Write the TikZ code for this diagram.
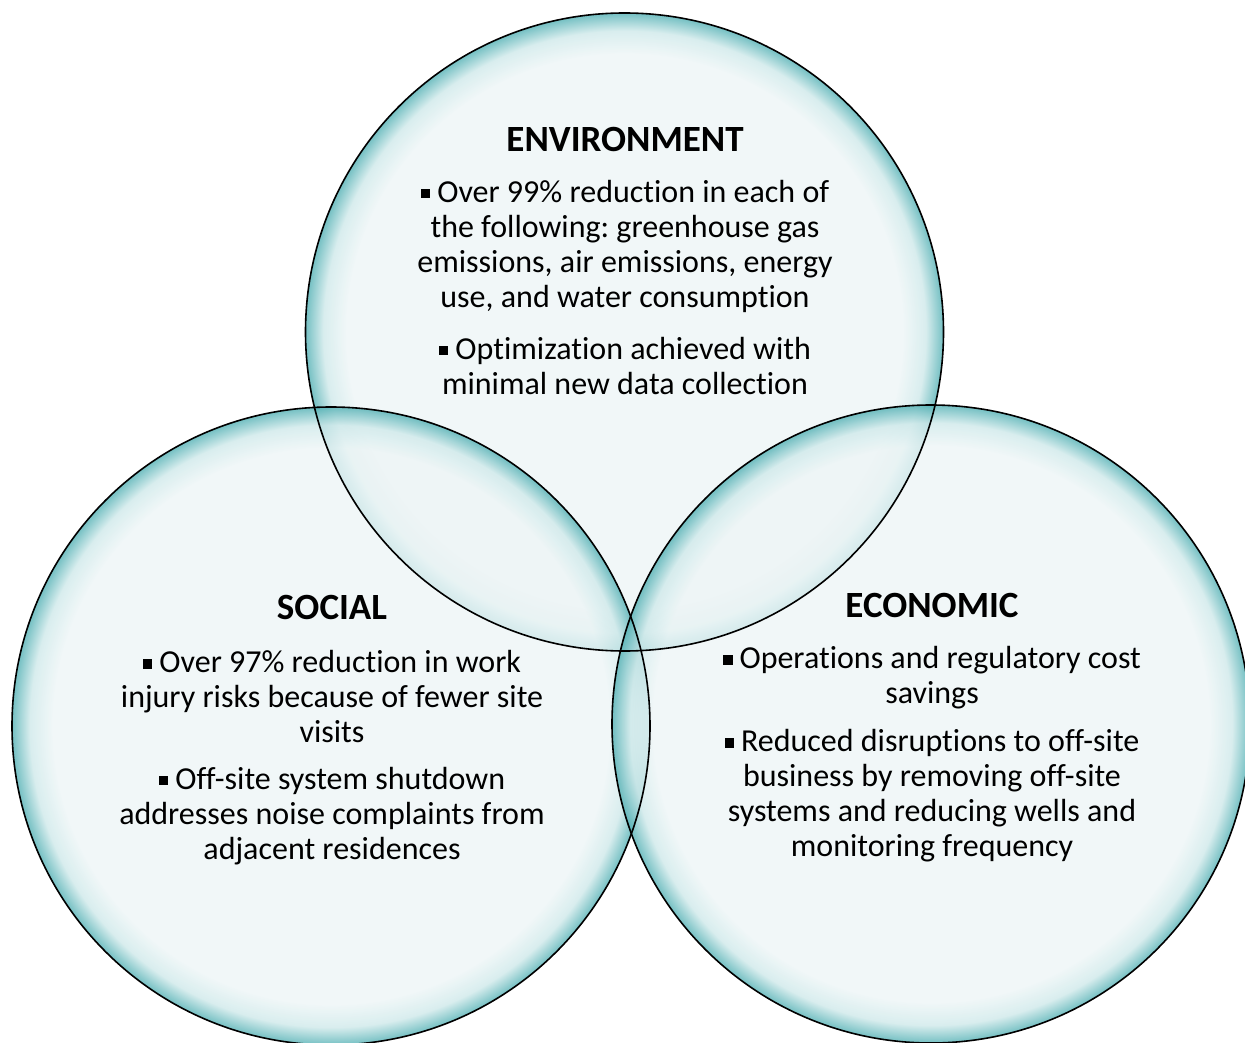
\documentclass[tikz,border=0pt]{standalone}
\usepackage{fontspec}
\setmainfont[Ligatures=NoCommon]{Carlito}
\frenchspacing
\definecolor{glassin}{HTML}{EDF5F6}
\definecolor{glassmid}{HTML}{CFE9EA}
\definecolor{glassout}{HTML}{52B0B4}
\pgfdeclareradialshading{glass}{\pgfpoint{0bp}{0bp}}{color(0bp)=(glassin); color(21.8bp)=(glassin); color(23.6bp)=(glassmid); color(25bp)=(glassout); color(50bp)=(glassout)}
\newcommand{\bul}{\rule[4pt]{9.5pt}{9.5pt}\hspace{7pt}}
\tikzset{
  vennfill/.style={circle, minimum size=638pt, inner sep=0pt, shading=glass, fill opacity=0.8},
  vennline/.style={draw=black, line width=1.6pt},
  ttl/.style={font=\fontsize{37pt}{40pt}\selectfont\bfseries, align=center, inner sep=0pt},
  bodytxt/.style={font=\fontsize{32pt}{35pt}\selectfont, align=center, inner sep=0pt},
}
\begin{document}
\begin{tikzpicture}[x=1pt,y=-1pt]
\useasboundingbox (0,0) rectangle (1245,1043);
\clip (0,0) rectangle (1245,1043);
\node[vennfill] (env) at (624.5,332) {};
\node[vennfill] (soc) at (331,726) {};
\node[vennfill] (eco) at (931,724) {};
\draw[vennline] (env.center) circle[radius=319];
\draw[vennline] (soc.center) circle[radius=319];
\draw[vennline] (eco.center) circle[radius=319];
% Environment
\node[ttl] (envt) at (625,139) {ENVIRONMENT};
\node[bodytxt] (envb1) at (625,246) {\bul Over 99\% reduction in each of\\the following: greenhouse gas\\emissions, air emissions, energy\\use, and water consumption};
\node[bodytxt] (envb2) at (625,366) {\bul Optimization achieved with\\minimal new data collection};
% Social
\node[ttl] (soct) at (332,607) {SOCIAL};
\node[bodytxt] (socb1) at (332,697) {\bul Over 97\% reduction in work\\injury risks because of fewer site\\visits};
\node[bodytxt] (socb2) at (332,816) {\bul Off-site system shutdown\\addresses noise complaints from\\adjacent residences};
% Economic
\node[ttl] (ecot) at (932,605) {ECONOMIC};
\node[bodytxt] (ecob1) at (932,678) {\bul Operations and regulatory cost\\savings};
\node[bodytxt] (ecob2) at (932,796) {\bul Reduced disruptions to off-site\\business by removing off-site\\systems and reducing wells and\\monitoring frequency};
\end{tikzpicture}
\end{document}
